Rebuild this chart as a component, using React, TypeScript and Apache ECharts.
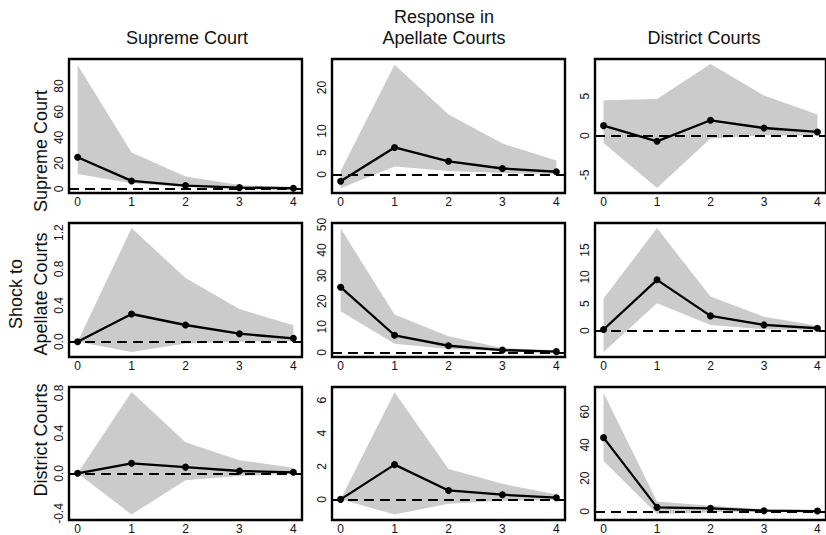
import React, { useEffect, useRef } from "react";
import * as echarts from "echarts";

// horizon (periods)
const periods = [0, 1, 2, 3, 4];
const xTicks = [0, 1, 2, 3, 4];

// Shock to Supreme Court
const ssEst = [24.6, 6.2, 2.6, 1.0, 0.5];
const ssLo = [11.6, 4.4, 1.5, 0.5, 0.2];
const ssHi = [96.3, 28.2, 9.6, 3.1, 1.0];
const saEst = [-1.6, 6.2, 3.0, 1.35, 0.6];
const saLo = [-3.2, 1.8, 0.8, 0.3, 0.1];
const saHi = [0.8, 25.3, 13.8, 7.1, 3.2];
const sdEst = [1.27, -0.72, 1.95, 0.97, 0.47];
const sdLo = [-0.93, -6.65, -0.35, 0.05, 0.02];
const sdHi = [4.5, 4.66, 9.1, 5.1, 2.67];

// Shock to Apellate Courts
const asEst = [0, 0.305, 0.184, 0.088, 0.037];
const asLo = [0, -0.114, -0.02, 0.0, 0.005];
const asHi = [0, 1.25, 0.7, 0.36, 0.18];
const aaEst = [25.5, 6.7, 2.6, 0.9, 0.3];
const aaLo = [16.1, 3.4, 1.3, 0.4, 0.1];
const aaHi = [48.5, 14.8, 6.3, 1.7, 0.8];
const adEst = [0.2, 9.46, 2.74, 1.06, 0.44];
const adLo = [-4.0, 5.1, 1.06, 0.25, 0.1];
const adHi = [6.0, 19.1, 6.35, 2.6, 0.9];

// Shock to District Courts
const dsEst = [0, 0.1, 0.062, 0.023, 0.01];
const dsLo = [0, -0.41, -0.07, -0.027, -0.005];
const dsHi = [0, 0.81, 0.31, 0.13, 0.056];
const daEst = [0, 2.1, 0.54, 0.28, 0.1];
const daLo = [0, -0.92, -0.26, -0.08, -0.02];
const daHi = [0, 6.48, 1.84, 0.94, 0.3];
const ddEst = [44.4, 2.4, 1.8, 0.4, 0.2];
const ddLo = [30.4, -1.6, -0.6, 0.0, 0.0];
const ddHi = [71.4, 6.0, 3.4, 1.2, 0.5];

// y tick labels per panel
const ssTicks = [0, 20, 40, 60, 80];
const saTicks = [0, 5, 10, 20];
const sdTicks = [-5, 0, 5];
const asTicks = [0, 0.4, 0.8, 1.2];
const aaTicks = [0, 10, 20, 30, 40, 50];
const adTicks = [0, 5, 10, 15];
const dsTicks = [-0.4, 0, 0.4, 0.8];
const daTicks = [0, 2, 4, 6];
const ddTicks = [0, 20, 40, 60];

// y ranges per panel
const ssRange = [-3.2, 101];
const saRange = [-4.3, 26.6];
const sdRange = [-7.28, 9.73];
const asRange = [-0.168, 1.306];
const aaRange = [-1.8, 50.6];
const adRange = [-4.92, 20.05];
const dsRange = [-0.465, 0.86];
const daRange = [-1.25, 6.8];
const ddRange = [-5.2, 74.9];

const panels = [
  { est: ssEst, lo: ssLo, hi: ssHi, ticks: ssTicks, range: ssRange, dec: 0 },
  { est: saEst, lo: saLo, hi: saHi, ticks: saTicks, range: saRange, dec: 0 },
  { est: sdEst, lo: sdLo, hi: sdHi, ticks: sdTicks, range: sdRange, dec: 0 },
  { est: asEst, lo: asLo, hi: asHi, ticks: asTicks, range: asRange, dec: 1 },
  { est: aaEst, lo: aaLo, hi: aaHi, ticks: aaTicks, range: aaRange, dec: 0 },
  { est: adEst, lo: adLo, hi: adHi, ticks: adTicks, range: adRange, dec: 0 },
  { est: dsEst, lo: dsLo, hi: dsHi, ticks: dsTicks, range: dsRange, dec: 1 },
  { est: daEst, lo: daLo, hi: daHi, ticks: daTicks, range: daRange, dec: 0 },
  { est: ddEst, lo: ddLo, hi: ddHi, ticks: ddTicks, range: ddRange, dec: 0 },
];

const FONT = "'Liberation Sans', Arial, Helvetica, sans-serif";
const colLeft = [69, 332, 595];
const rowTop = [59, 223, 387];
const PW = 233;
const PH = 134;

export default function App() {
  const ref = useRef<HTMLDivElement>(null);
  useEffect(() => {
    if (!ref.current) return;
    const chart = echarts.init(ref.current, null, { renderer: "svg" });
    const grids: any[] = [];
    const xAxes: any[] = [];
    const yAxes: any[] = [];
    const series: any[] = [];
    panels.forEach((p, i) => {
      const r = Math.floor(i / 3);
      const c = i % 3;
      grids.push({
        left: colLeft[c],
        top: rowTop[r],
        width: PW,
        height: PH,
        show: true,
        borderColor: "#000",
        borderWidth: 2.4,
        backgroundColor: "transparent",
      });
      xAxes.push({
        type: "value",
        gridIndex: i,
        min: -0.16,
        max: 4.16,
        axisLine: { show: false },
        axisTick: { show: false },
        splitLine: { show: false },
        axisLabel: {
          customValues: xTicks,
          fontSize: 12,
          color: "#111",
          fontFamily: FONT,
          margin: 3,
        },
      });
      yAxes.push({
        type: "value",
        gridIndex: i,
        min: p.range[0],
        max: p.range[1],
        axisLine: { show: false },
        axisTick: { show: false },
        splitLine: { show: false },
        axisLabel: {
          customValues: p.ticks,
          rotate: 90,
          fontSize: 12,
          color: "#111",
          fontFamily: FONT,
          margin: 4,
          formatter: (v: number) => v.toFixed(p.dec),
        },
      });
      const lo = p.lo;
      const hi = p.hi;
      series.push({
        type: "custom",
        xAxisIndex: i,
        yAxisIndex: i,
        silent: true,
        z: 1,
        data: periods.map((x, k) => [x, lo[k], hi[k]]),
        encode: { x: 0, y: [1, 2] },
        renderItem: (params: any, api: any) => {
          if (params.dataIndex !== 0) return null;
          const pts: number[][] = [];
          for (let k = 0; k < periods.length; k++) pts.push(api.coord([periods[k], hi[k]]));
          for (let k = periods.length - 1; k >= 0; k--) pts.push(api.coord([periods[k], lo[k]]));
          return {
            type: "polygon",
            shape: { points: pts },
            style: { fill: "#cbcbcb", stroke: null },
          };
        },
      });
      series.push({
        type: "line",
        xAxisIndex: i,
        yAxisIndex: i,
        data: [],
        z: 2,
        silent: true,
        markLine: {
          silent: true,
          symbol: ["none", "none"],
          label: { show: false },
          lineStyle: { color: "#000", width: 2.2, type: [10, 6] },
          data: [{ yAxis: 0 }],
        },
      });
      series.push({
        type: "line",
        xAxisIndex: i,
        yAxisIndex: i,
        z: 3,
        silent: true,
        data: periods.map((x, k) => [x, p.est[k]]),
        symbol: "circle",
        symbolSize: 7,
        itemStyle: { color: "#000" },
        lineStyle: { color: "#000", width: 2.3 },
      });
    });

    const titleStyle = { fontSize: 18, fontFamily: FONT, fill: "#111", align: "center", verticalAlign: "middle" };
    const graphic: any[] = [
      { type: "text", x: 187, y: 38, style: { ...titleStyle, text: "Supreme Court" } },
      { type: "text", x: 444, y: 17, style: { ...titleStyle, text: "Response in" } },
      { type: "text", x: 444, y: 38, style: { ...titleStyle, text: "Apellate Courts" } },
      { type: "text", x: 704, y: 38, style: { ...titleStyle, text: "District Courts" } },
      { type: "text", x: 41, y: 151, rotation: Math.PI / 2, style: { ...titleStyle, text: "Supreme Court" } },
      { type: "text", x: 16, y: 294, rotation: Math.PI / 2, style: { ...titleStyle, text: "Shock to" } },
      { type: "text", x: 41, y: 294, rotation: Math.PI / 2, style: { ...titleStyle, text: "Apellate Courts" } },
      { type: "text", x: 41, y: 440, rotation: Math.PI / 2, style: { ...titleStyle, text: "District Courts" } },
    ];

    chart.setOption({
      animation: false,
      backgroundColor: "#fff",
      grid: grids,
      xAxis: xAxes,
      yAxis: yAxes,
      series,
      graphic,
    });
    return () => chart.dispose();
  }, []);
  return (
    <div style={{ position: "absolute", left: 0, top: 0, width: 826, height: 535, overflow: "hidden" }}>
      <div ref={ref} style={{ width: 826, height: 535 }} />
    </div>
  );
}
